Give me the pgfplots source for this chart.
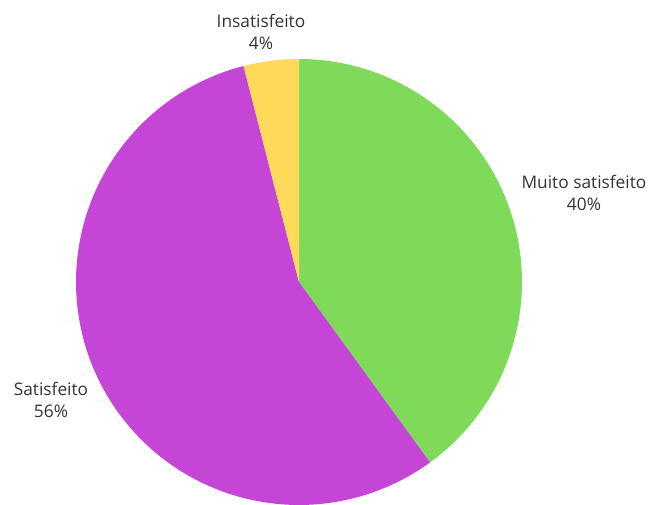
\documentclass[border=0pt]{standalone}
\usepackage{pgfplots}
\pgfplotsset{compat=1.18}
\usepackage{fontspec}
\setmainfont{Open Sans}
\definecolor{cgreen}{HTML}{7FDA5A}
\definecolor{cmag}{HTML}{C545D6}
\definecolor{cyel}{HTML}{FFDA5A}
\definecolor{ctext}{HTML}{333333}
\begin{document}
\begin{tikzpicture}
\begin{axis}[width=651pt,height=505pt,scale only axis,
  xmin=0,xmax=651,ymin=0,ymax=505,axis lines=none,clip=false,
  trig format plots=deg]
% shares (percent): Muito satisfeito 40, Satisfeito 56, Insatisfeito 4
\addplot[fill=cgreen,draw=none,domain={90}:{90-3.6*40},samples=150]
  ({299+223*cos(x)},{223+223*sin(x)}) -- (axis cs:299,223) -- cycle;
\addplot[fill=cmag,draw=none,domain={90-3.6*40}:{90-3.6*(40+56)},samples=200]
  ({299+223*cos(x)},{223+223*sin(x)}) -- (axis cs:299,223) -- cycle;
\addplot[fill=cyel,draw=none,domain={90-3.6*96}:{90-3.6*100},samples=20]
  ({299+223*cos(x)},{223+223*sin(x)}) -- (axis cs:299,223) -- cycle;
\path (axis cs:0,0) rectangle (axis cs:651,505);
\tikzset{lbl/.style={align=center,text=ctext,font=\fontsize{17.3}{22}\selectfont,inner sep=0pt}}
\node[lbl] at (axis cs:584,312) {Muito satisfeito\\40\%};
\node[lbl] at (axis cs:51,105) {Satisfeito\\56\%};
\node[lbl] at (axis cs:261,473) {Insatisfeito\\4\%};
\end{axis}
\end{tikzpicture}
\end{document}
